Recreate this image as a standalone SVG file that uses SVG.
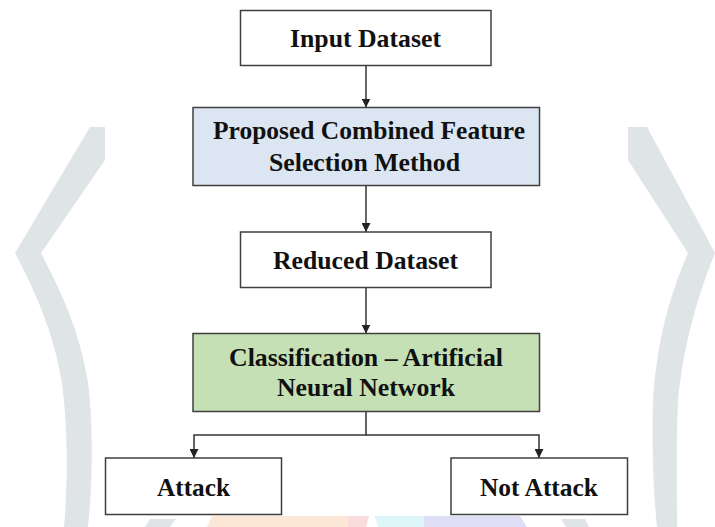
<svg xmlns="http://www.w3.org/2000/svg" width="715" height="527" viewBox="0 0 715 527">
  <style>
    .box { stroke: #3f3f3f; stroke-width: 1.5; }
    .plain { fill: #ffffff; }
    .blue { fill: #dce6f2; }
    .green { fill: #c5e0b4; }
    .lbl { font-family: "Liberation Serif", "Times New Roman", serif; font-weight: bold; font-size: 25px; fill: #111111; }
    .wire { fill: none; stroke: #333333; stroke-width: 1.5; }
    .wm { fill: #dfe4e7; }
  </style>
  <defs>
    <marker id="arr" viewBox="0 0 10 10" refX="10" refY="5" markerWidth="9" markerHeight="9" markerUnits="userSpaceOnUse" orient="auto">
      <path d="M0,0 L10,5 L0,10 Z" fill="#222222"/>
    </marker>
  </defs>
  <rect width="715" height="527" fill="#ffffff"/>
  <g id="watermark">
    <path class="wm" d="M90,127 L105,127 L105,160 L41,253 C60,290 80,330 88,383 C93,420 93,480 88,527 L64,527 C68,480 68,430 62,383 C55,340 40,300 15,253 Z"/>
    <path class="wm" d="M628,127 L647,127 L715,253 C700,290 684,340 678,400 C676,440 677,490 677,527 L657,527 C653,490 652,440 653,400 C657,340 670,295 688,253 L628,160 Z"/>
    <polygon points="150,519 176,519 170,527 145,527" fill="#dfe4e7"/>
    <polygon points="212,516 348,516 348,527 207,527" fill="#fde8d7"/>
    <polygon points="348,516 369,516 366,527 348,527" fill="#fadcdc"/>
    <polygon points="375,516 424,516 424,527 378,527" fill="#dcf6fa"/>
    <polygon points="424,516 520,516 527,527 424,527" fill="#dedff6"/>
    <polygon points="561,519 585,519 589,527 566,527" fill="#dfe4e7"/>
  </g>
  <g id="connectors">
    <line class="wire" x1="366" y1="65.5" x2="366" y2="107.5" marker-end="url(#arr)"/>
    <line class="wire" x1="366" y1="185.5" x2="366" y2="232" marker-end="url(#arr)"/>
    <line class="wire" x1="366" y1="287.5" x2="366" y2="333.5" stroke-width="2" marker-end="url(#arr)"/>
    <polyline class="wire" points="366,411.5 366,435 194,435 194,458" marker-end="url(#arr)"/>
    <polyline class="wire" points="366,435 539,435 539,458" marker-end="url(#arr)"/>
  </g>
  <g id="input-dataset">
    <rect class="box plain" x="240.5" y="10.5" width="250.5" height="55"/>
    <text class="lbl" x="290" y="47" textLength="151" lengthAdjust="spacingAndGlyphs">Input Dataset</text>
  </g>
  <g id="feature-selection">
    <rect class="box blue" x="193" y="107.5" width="346.5" height="78"/>
    <text class="lbl" x="213" y="139" textLength="312" lengthAdjust="spacingAndGlyphs">Proposed Combined Feature</text>
    <text class="lbl" x="269" y="170.5" textLength="191" lengthAdjust="spacingAndGlyphs">Selection Method</text>
  </g>
  <g id="reduced-dataset">
    <rect class="box plain" x="240.5" y="232" width="250.5" height="55.5"/>
    <text class="lbl" x="273" y="269" textLength="185" lengthAdjust="spacingAndGlyphs">Reduced Dataset</text>
  </g>
  <g id="classification">
    <rect class="box green" x="193" y="333.5" width="346.5" height="78"/>
    <text class="lbl" x="229" y="366" textLength="274" lengthAdjust="spacingAndGlyphs">Classification – Artificial</text>
    <text class="lbl" x="277" y="395.5" textLength="178" lengthAdjust="spacingAndGlyphs">Neural Network</text>
  </g>
  <g id="attack">
    <rect class="box plain" x="105.5" y="458" width="176" height="56.5"/>
    <text class="lbl" x="157" y="495.5" textLength="73" lengthAdjust="spacingAndGlyphs">Attack</text>
  </g>
  <g id="not-attack">
    <rect class="box plain" x="451" y="458" width="176.5" height="56.5"/>
    <text class="lbl" x="480" y="495.5" textLength="118" lengthAdjust="spacingAndGlyphs">Not Attack</text>
  </g>
</svg>
